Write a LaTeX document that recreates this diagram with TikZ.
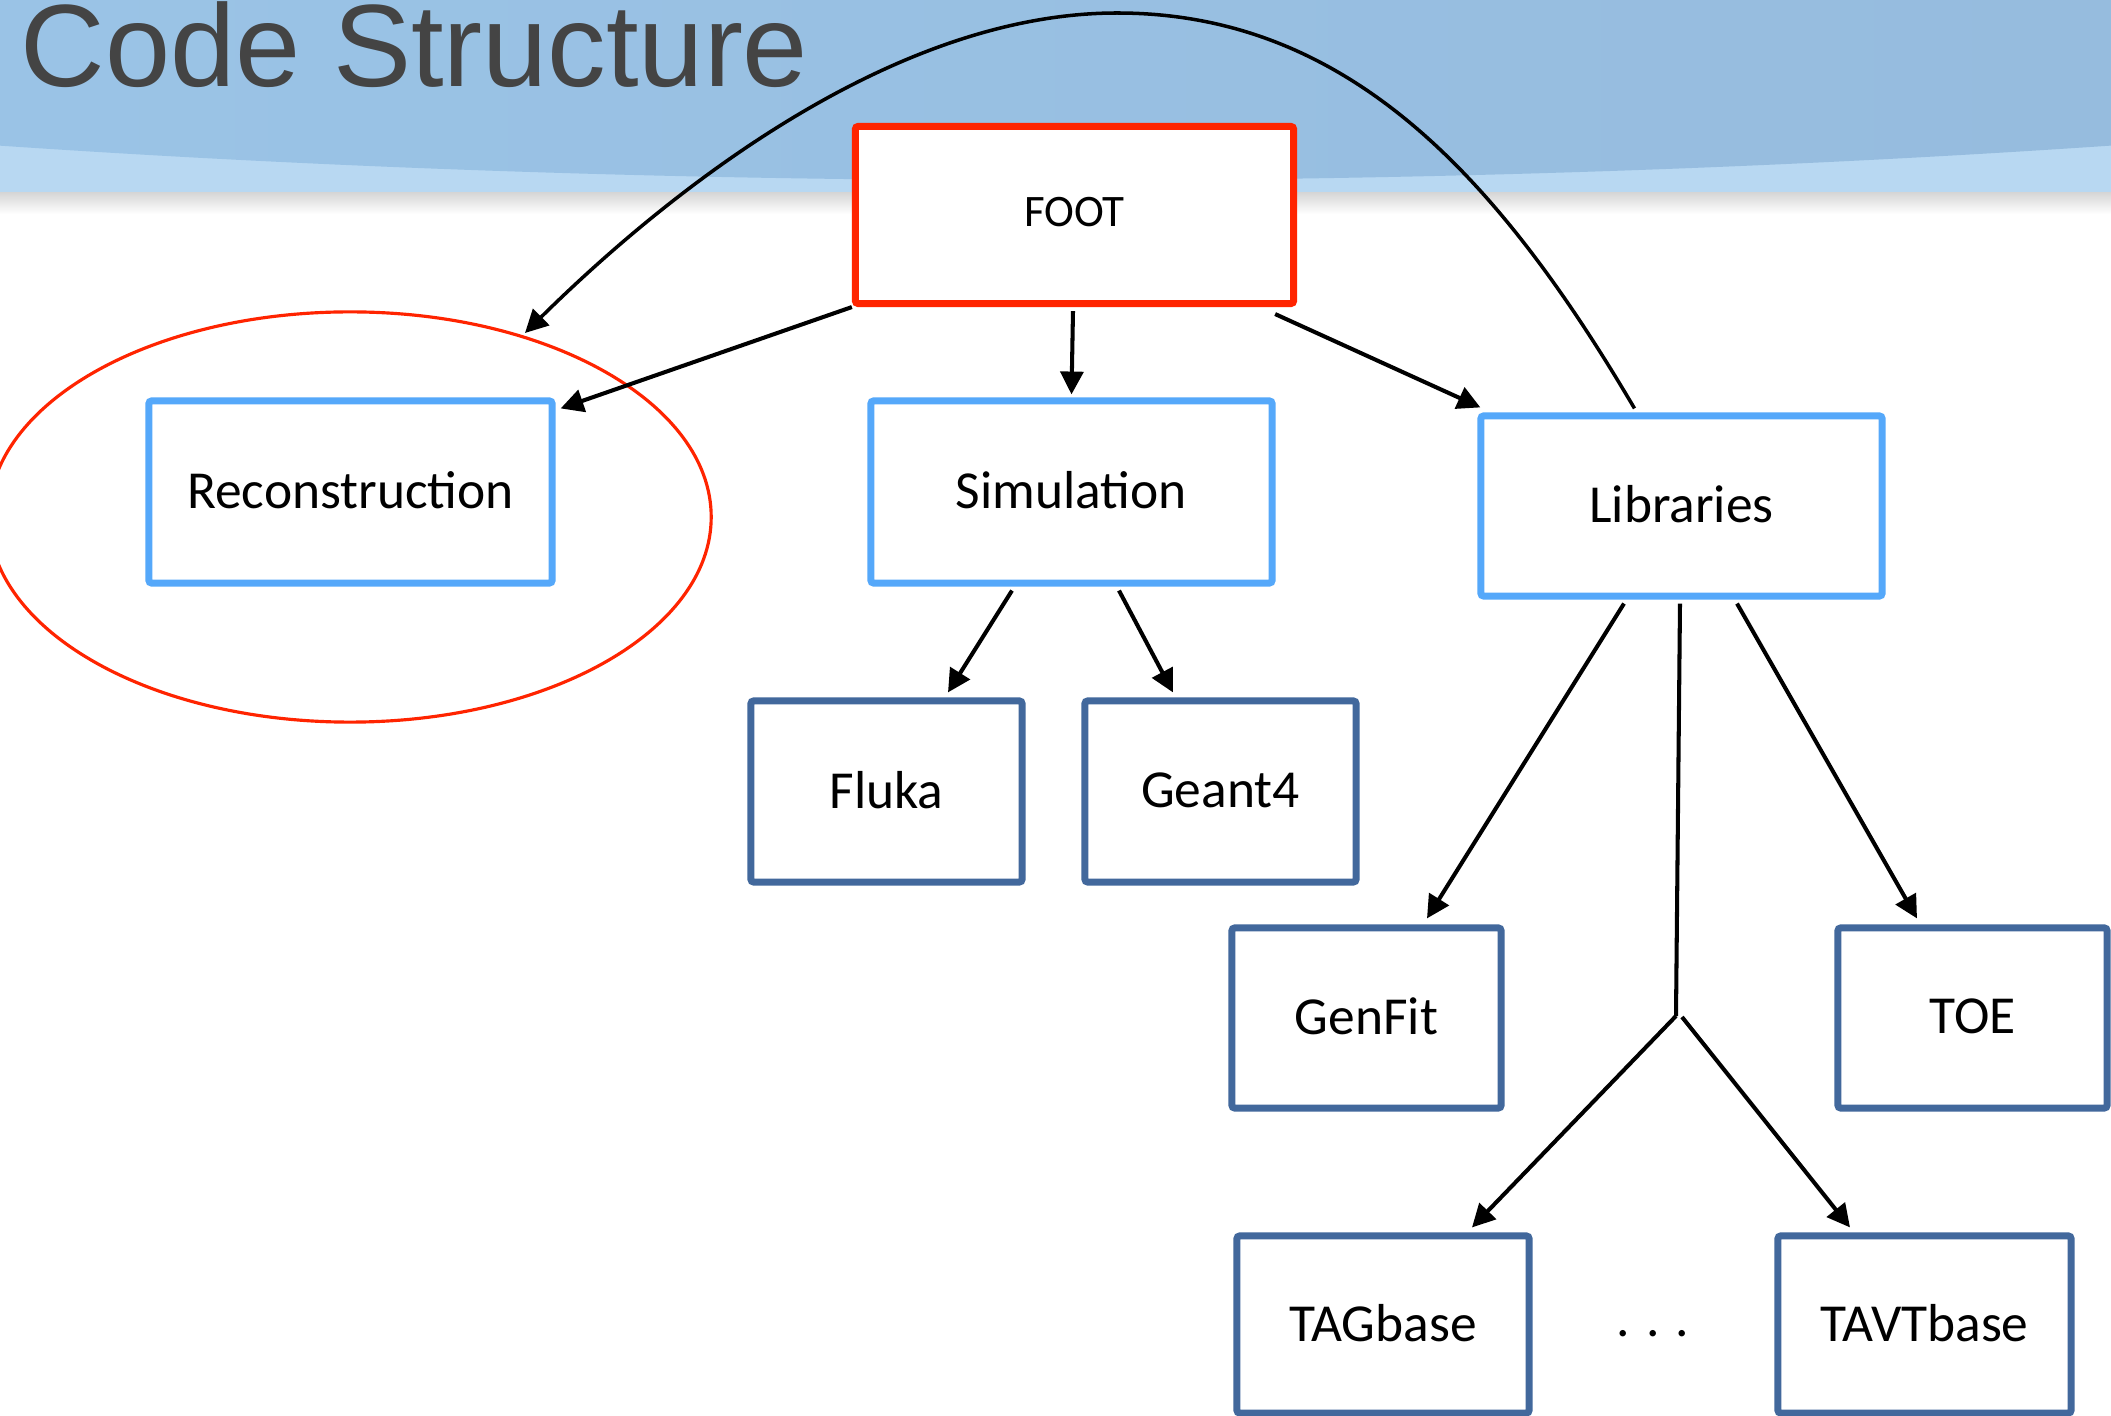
\documentclass[tikz,border=0pt]{standalone}
\usepackage{fontspec}
\usepackage{graphicx}
\setmainfont{Carlito}
\newfontfamily\titlefont{Liberation Sans}
\usetikzlibrary{arrows.meta,calc}
\definecolor{redc}{RGB}{255,36,0}
\definecolor{lblue}{RGB}{85,168,250}
\definecolor{dblue}{RGB}{66,104,156}
\definecolor{bandL}{RGB}{158,203,238}
\definecolor{bandR}{RGB}{146,180,214}
\definecolor{bandlight}{RGB}{184,216,242}
\definecolor{titlegray}{RGB}{68,68,68}
\tikzset{
  box/.style={draw, line width=2pt, fill=white, inner sep=0pt, rounded corners=0.8pt, font=\fontsize{15.2}{18}\selectfont},
  topbox/.style={box, draw=redc, font=\fontsize{12.8}{15}\selectfont},
  lbox/.style={box, draw=lblue},
  dbox/.style={box, draw=dblue},
  arr/.style={line width=1.15pt, -{Triangle[length=6.5pt,width=6.5pt]}},
  plain/.style={line width=1.15pt},
}
\begin{document}
\begin{tikzpicture}[x=0.01cm, y=-0.01cm]
\useasboundingbox (0,0) rectangle (2111,1416);
\clip (0,0) rectangle (2111,1416);
\fill[white] (0,0) rectangle (2111,1416);
% header band
\shade[top color=black!18, bottom color=white] (0,190) rectangle (2111,214);
\fill[bandlight] (0,0) rectangle (2111,192);
\begin{scope}
\clip (0,0) rectangle (2111,192);
\shade[left color=bandL, right color=bandR] (1055,-420) ellipse [x radius=31.4cm, y radius=6cm];
\end{scope}
\node[anchor=base west, inner sep=0pt, text=titlegray] (title) at (20,87)
  {\titlefont\fontsize{33.3}{36}\selectfont Code Structure};
% ellipse
\draw[redc, line width=0.9pt] (350,517) ellipse [x radius=3.61cm, y radius=2.05cm];
\coordinate (ellend) at (525,333);
% nodes
\node[topbox, minimum width=4.38cm, minimum height=1.77cm, text depth=0pt] (foot) at (1074.5,215) {\raisebox{2pt}{FOOT}};
\node[lbox, minimum width=4.03cm, minimum height=1.82cm] (recon) at (350.5,492) {\raisebox{1pt}{Reconstruction}};
\node[lbox, minimum width=4.01cm, minimum height=1.82cm] (sim) at (1071.5,492) {\raisebox{1pt}{Simulation}};
\node[lbox, minimum width=4.01cm, minimum height=1.80cm] (lib) at (1681.5,506) {\raisebox{1pt}{Libraries}};
\node[dbox, minimum width=2.71cm, minimum height=1.81cm] (fluka) at (886.5,791.5) {\raisebox{1pt}{Fluka}};
\node[dbox, minimum width=2.71cm, minimum height=1.81cm] (geant) at (1220.5,791.5) {\raisebox{1pt}{Geant4}};
\node[dbox, minimum width=2.69cm, minimum height=1.80cm] (genfit) at (1366.5,1018) {\raisebox{1pt}{GenFit}};
\node[dbox, minimum width=2.69cm, minimum height=1.80cm] (toe) at (1972.5,1018) {\raisebox{1pt}{TOE}};
\node[dbox, minimum width=2.92cm, minimum height=1.77cm] (tag) at (1383,1324.5) {\raisebox{1pt}{TAGbase}};
\node[dbox, minimum width=2.93cm, minimum height=1.77cm] (tavt) at (1924.5,1324.5) {\raisebox{1pt}{TAVTbase}};
\node[font=\fontsize{15.2}{18}\selectfont] (dots) at (1653,1334) {. . .};
% connectors
\draw[arr] (foot.south west) -- ([shift={(5,11)}]recon.north east);
\draw[arr] ([shift={(-1.5,4)}]foot.south) -- ([shift={(0,-3)}]sim.north);
\draw[arr] ([shift={(-22,7)}]foot.south east) -- ([shift={(3,-5)}]lib.north west);
\draw[arr, line width=1pt] ([shift={(-47,-4)}]lib.north) .. controls (1500,180) and (1350,13) .. (1117,13)
   .. controls (900,13) and (680,180) .. (ellend);
\draw[arr] ([shift={(-59.5,4)}]sim.south) -- ([shift={(61.5,-5)}]fluka.north);
\draw[arr] ([shift={(47.5,4)}]sim.south) -- ([shift={(-47.5,-5)}]geant.north);
\draw[arr] ([shift={(-57.5,4)}]lib.south) -- ([shift={(60.5,-6)}]genfit.north);
\draw[arr] ([shift={(55.5,4)}]lib.south) -- ([shift={(-55.5,-6)}]toe.north);
\coordinate (junc) at (1676,1016);
\draw[plain] ([shift={(-1.5,4)}]lib.south) -- (junc);
\draw[arr] (junc) -- ([shift={(89,-5)}]tag.north);
\draw[arr] ([shift={(6,1)}]junc) -- ([shift={(-74.5,-5)}]tavt.north);
\end{tikzpicture}
\end{document}
